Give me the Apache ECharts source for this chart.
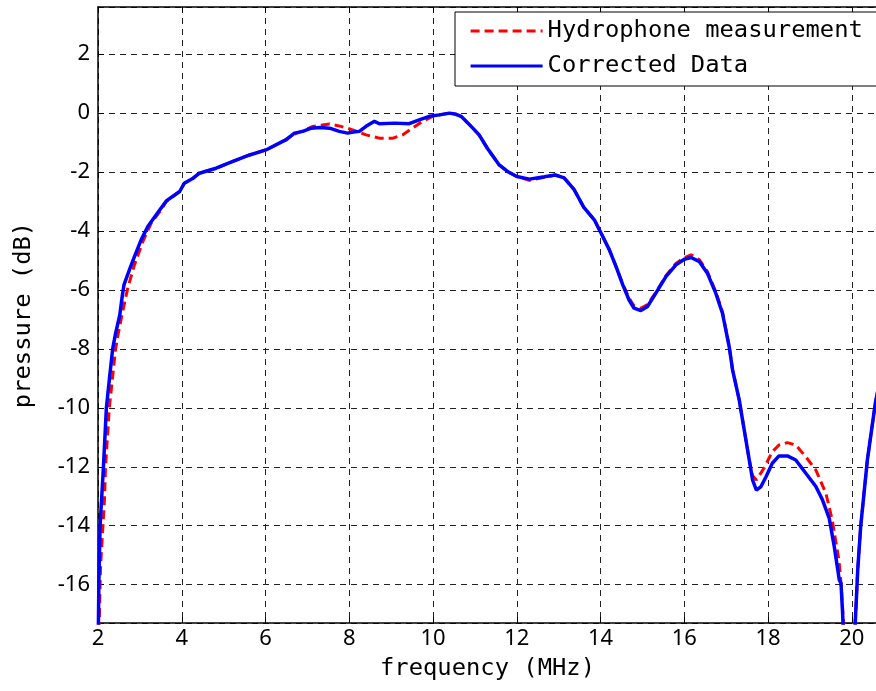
<!DOCTYPE html>
<html>
<head>
<meta charset="utf-8">
<title>Pressure spectrum</title>
<script src="https://cdn.jsdelivr.net/npm/echarts@6/dist/echarts.min.js"></script>
<style>
  html, body { margin: 0; padding: 0; background: #fff; }
  #chart { width: 876px; height: 691px; }
</style>
</head>
<body>
<div id="chart"></div>
<script>
// Frequency axis range (MHz) and pressure axis range (dB)
const xRange = [2, 20.6];
const yRange = [-17.3, 3.6];

const seriesNames = ['Hydrophone measurement', 'Corrected Data'];

// Hydrophone measurement: frequency (MHz) and pressure (dB)
const hydroFreq = [
  2.00, 2.03, 2.06, 2.155, 2.18, 2.27, 2.42, 2.47, 2.58, 2.71, 2.87, 3.07, 3.27, 3.51, 3.63,
  3.95, 4.06, 4.26, 4.42, 4.82, 5.22, 5.62, 6.01, 6.41, 6.65, 6.89, 7.13, 7.53, 7.80, 8.08,
  8.40, 8.72, 9.04, 9.27, 9.51, 9.75, 9.99, 10.31, 10.39, 10.55, 10.67, 10.91, 11.10, 11.30,
  11.58, 11.80, 12.00, 12.30, 12.66, 12.92, 13.13, 13.37, 13.60, 13.85, 14.01, 14.21, 14.37,
  14.53, 14.68, 14.80, 14.96, 15.12, 15.32, 15.56, 15.80, 16.00, 16.16, 16.36, 16.55, 16.75,
  16.91, 17.07, 17.15, 17.31, 17.43, 17.55, 17.63, 17.72, 17.90, 18.10, 18.26, 18.46, 18.66,
  18.90, 19.14, 19.38, 19.53, 19.69, 19.74, 19.80, 19.84, 20.04, 20.08, 20.14, 20.21, 20.37,
  20.56, 20.65
];
const hydroDb = [
  -19.0, -17.3, -15.4, -13.1, -12.0, -10.0, -8.0, -7.58, -6.79, -5.94, -5.15, -4.36, -3.73, -3.28, -3.0,
  -2.66, -2.38, -2.22, -2.04, -1.87, -1.64, -1.42, -1.25, -0.96, -0.74, -0.60, -0.45, -0.37, -0.45, -0.57,
  -0.74, -0.85, -0.85, -0.74, -0.51, -0.28, -0.11, -0.02, 0.0, -0.04, -0.11, -0.45, -0.74, -1.20,
  -1.76, -2.0, -2.15, -2.28, -2.18, -2.1, -2.2, -2.6, -3.2, -3.62, -4.07, -4.64, -5.21,
  -5.80, -6.28, -6.55, -6.62, -6.50, -6.08, -5.52, -5.10, -4.90, -4.81, -4.98, -5.38, -6.06,
  -6.75, -7.90, -8.70, -9.73, -10.75, -11.77, -12.30, -12.45, -12.05, -11.49, -11.26, -11.18, -11.26,
  -11.66, -12.11, -12.90, -13.80, -15.16, -15.95, -17.3, -19.0, -19.0, -17.3, -15.5, -14.03, -11.77,
  -9.84, -9.2
];

// Corrected data: frequency (MHz) and pressure (dB)
const corrFreq = [
  2.00, 2.01, 2.02, 2.05, 2.09, 2.13, 2.20, 2.27, 2.35, 2.42, 2.52, 2.58, 2.62, 2.75, 2.87,
  3.03, 3.19, 3.39, 3.63, 3.95, 4.06, 4.26, 4.42, 4.82, 5.22, 5.62, 6.01, 6.41, 6.49, 6.69,
  6.89, 7.09, 7.30, 7.53, 7.76, 7.96, 8.10, 8.24, 8.40, 8.60, 8.72, 9.08, 9.43, 9.67, 9.91,
  10.15, 10.39, 10.55, 10.67, 10.91, 11.10, 11.30, 11.58, 11.80, 12.00, 12.30, 12.66, 12.92,
  13.13, 13.37, 13.60, 13.85, 14.01, 14.21, 14.37, 14.53, 14.68, 14.80, 14.96, 15.12, 15.32,
  15.56, 15.80, 16.00, 16.16, 16.36, 16.55, 16.75, 16.91, 17.07, 17.15, 17.31, 17.43, 17.55,
  17.63, 17.72, 17.83, 17.95, 18.10, 18.26, 18.46, 18.66, 18.90, 19.14, 19.30, 19.46, 19.58,
  19.70, 19.74, 19.78, 19.82, 20.04, 20.08, 20.14, 20.21, 20.37, 20.56, 20.65
];
const corrDb = [
  -18.5, -17.3, -16.0, -14.0, -13.0, -12.0, -10.0, -9.05, -8.0, -7.47, -6.85, -6.2, -5.83, -5.32, -4.87,
  -4.3, -3.85, -3.45, -2.98, -2.66, -2.38, -2.22, -2.04, -1.87, -1.64, -1.42, -1.25, -0.96, -0.91, -0.68,
  -0.62, -0.51, -0.49, -0.51, -0.62, -0.68, -0.64, -0.62, -0.45, -0.28, -0.36, -0.34, -0.36, -0.23, -0.11,
  -0.06, 0.0, -0.04, -0.11, -0.45, -0.74, -1.20, -1.76, -2.0, -2.15, -2.24, -2.16, -2.1,
  -2.2, -2.6, -3.2, -3.62, -4.07, -4.64, -5.21, -5.83, -6.34, -6.62, -6.70, -6.56, -6.11,
  -5.55, -5.15, -4.96, -4.90, -5.04, -5.43, -6.11, -6.79, -7.92, -8.70, -9.73, -10.75, -11.77,
  -12.45, -12.79, -12.67, -12.34, -11.88, -11.63, -11.63, -11.77, -12.22, -12.67, -13.13, -13.75, -14.71,
  -15.84, -15.95, -17.0, -18.5, -18.5, -17.3, -15.5, -14.03, -11.77, -9.84, -9.2
];

const zip = (xs, ys) => xs.map((x, i) => [x, ys[i]]);

const monoFont = '"DejaVu Sans Mono", "Liberation Mono", monospace';
const tickFont = '"Noto Sans", "DejaVu Sans", sans-serif';

const gridDash = {
  show: true,
  lineStyle: { color: '#222', width: 1, type: [6, 5] }
};

const chart = echarts.init(document.getElementById('chart'), null, { renderer: 'canvas' });

chart.setOption({
  animation: false,
  backgroundColor: '#fff',
  grid: {
    left: 98,
    top: 7,
    width: 779,
    height: 616,
    containLabel: false,
    outerBoundsMode: 'none'
  },
  legend: {
    orient: 'vertical',
    left: 455,
    top: 12,
    data: seriesNames,
    selectedMode: false,
    backgroundColor: '#fff',
    borderColor: '#000',
    borderWidth: 1,
    borderRadius: 0,
    padding: [6, 14, 7, 14],
    itemWidth: 72,
    itemHeight: 14,
    itemGap: 9,
    // line-only legend keys, no point markers
    itemStyle: { opacity: 0 },
    lineStyle: { width: 3.2 },
    textStyle: {
      fontFamily: monoFont,
      fontSize: 23.8,
      lineHeight: 23,
      color: '#000',
      padding: [3, 0, 0, 0]
    }
  },
  xAxis: [
    {
      type: 'value',
      min: xRange[0],
      max: xRange[1],
      minInterval: 2,
      maxInterval: 2,
      position: 'bottom',
      name: 'frequency (MHz)',
      nameLocation: 'middle',
      nameGap: 34,
      nameTextStyle: { fontFamily: monoFont, fontSize: 23.8, color: '#000' },
      axisLine: { show: true, onZero: false, lineStyle: { color: '#000', width: 1.5 } },
      axisTick: { show: true, inside: true, length: 6, lineStyle: { color: '#000' } },
      axisLabel: {
        show: true,
        margin: 5,
        fontFamily: tickFont,
        fontSize: 22,
        color: '#000',
        showMinLabel: true,
        showMaxLabel: false
      },
      splitLine: gridDash
    },
    {
      type: 'value',
      min: xRange[0],
      max: xRange[1],
      minInterval: 2,
      maxInterval: 2,
      position: 'top',
      axisLine: { show: true, onZero: false, lineStyle: { color: '#000', width: 1.5 } },
      axisTick: { show: true, inside: true, length: 6, lineStyle: { color: '#000' } },
      axisLabel: { show: false },
      splitLine: { show: false }
    }
  ],
  yAxis: {
    type: 'value',
    min: yRange[0],
    max: yRange[1],
    minInterval: 2,
    maxInterval: 2,
    name: 'pressure (dB)',
    nameLocation: 'middle',
    nameGap: 62,
    nameTextStyle: { fontFamily: monoFont, fontSize: 23.8, color: '#000' },
    axisLine: { show: true, onZero: false, lineStyle: { color: '#000', width: 1.5 } },
    axisTick: { show: true, inside: true, length: 6, lineStyle: { color: '#000' } },
    axisLabel: {
      show: true,
      margin: 8,
      fontFamily: tickFont,
      fontSize: 22,
      color: '#000',
      showMinLabel: false,
      showMaxLabel: false
    },
    splitLine: gridDash
  },
  series: [
    {
      name: seriesNames[0],
      type: 'line',
      xAxisIndex: 0,
      data: zip(hydroFreq, hydroDb),
      showSymbol: false,
      symbol: 'none',
      clip: true,
      lineStyle: { color: '#ff0000', width: 3, type: [9, 5] },
      itemStyle: { color: '#ff0000' },
      z: 3
    },
    {
      name: seriesNames[1],
      type: 'line',
      xAxisIndex: 0,
      data: zip(corrFreq, corrDb),
      showSymbol: false,
      symbol: 'none',
      clip: true,
      lineStyle: { color: '#0000ff', width: 3.5, type: 'solid' },
      itemStyle: { color: '#0000ff' },
      z: 4
    }
  ]
});
</script>
</body>
</html>
